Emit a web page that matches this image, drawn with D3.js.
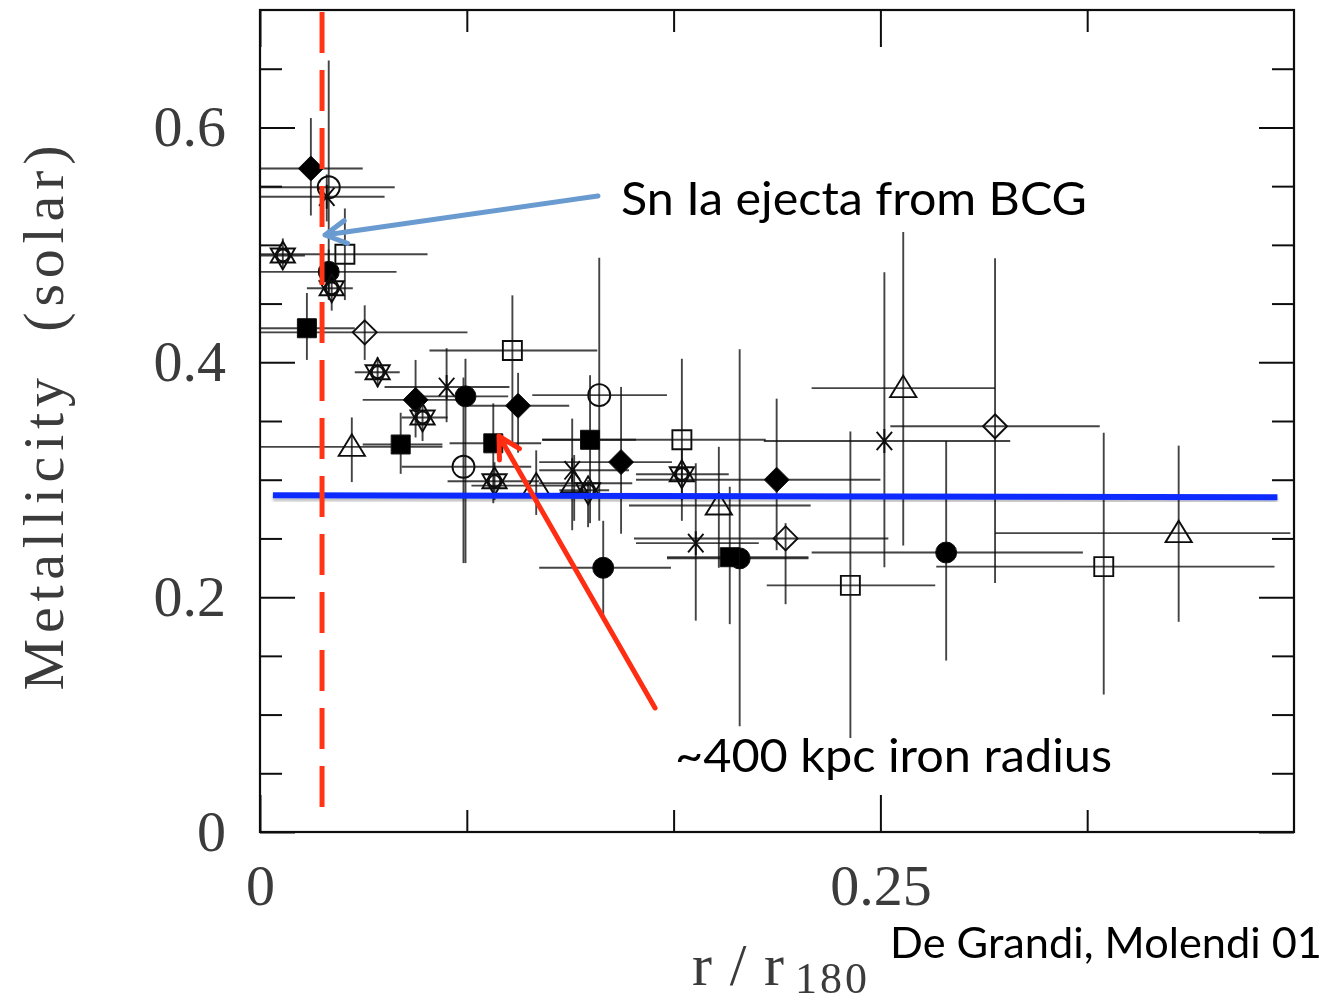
<!DOCTYPE html>
<html>
<head>
<meta charset="utf-8">
<script src="https://cdn.jsdelivr.net/npm/d3@7"></script>
<style>
  body { margin: 0; background: #fff; }
  svg { display: block; }
</style>
</head>
<body>
<svg id="chart" width="1327" height="1005"></svg>
<script>
// Each row: [r/r180, rLo, rHi, Z, zLo, zHi]
const filledDiamonds = [
  [0.0205, 0.0,    0.0414, 0.565, 0.525, 0.608],
  [0.0627, 0.0414, 0.0836, 0.368, 0.336, 0.402],
  [0.104,  0.0844, 0.1246, 0.363, 0.323, 0.391],
  [0.1455, 0.1125, 0.166,  0.315, 0.254, 0.379],
  [0.2082, 0.1515, 0.25,   0.300, 0.240, 0.369]
];
const filledCircles = [
  [0.0277, 0.0,    0.055,  0.477, 0.460, 0.496],
  [0.0828, 0.064,  0.1,    0.371, 0.229, 0.403],
  [0.1383, 0.1125, 0.1656, 0.225, 0.180, 0.265],
  [0.1933, 0.164,  0.221,  0.233, 0.090, 0.411],
  [0.2765, 0.2223, 0.3316, 0.238, 0.146, 0.333]
];
const filledSquares = [
  [0.0189, 0.0,    0.0382, 0.429, 0.402, 0.459],
  [0.0567, 0.0414, 0.0735, 0.330, 0.305, 0.357],
  [0.094,  0.0764, 0.1133, 0.331, 0.280, 0.365],
  [0.133,  0.1137, 0.1515, 0.334, 0.263, 0.389],
  [0.1893, 0.164,  0.221,  0.234, 0.177, 0.294]
];
const openCircles = [
  [0.0277, 0.0,    0.0543, 0.549, 0.453, 0.657],
  [0.082,  0.0571, 0.1093, 0.311, 0.229, 0.387],
  [0.1367, 0.1097, 0.164,  0.372, 0.265, 0.489]
];
const openSquares = [
  [0.0342, 0.0,    0.0675, 0.492, 0.453, 0.531],
  [0.1017, 0.0683, 0.1359, 0.410, 0.331, 0.457],
  [0.17,   0.1137, 0.2038, 0.334, 0.265, 0.403],
  [0.2379, 0.2042, 0.2721, 0.210, 0.080, 0.341],
  [0.34,   0.2725, 0.4088, 0.226, 0.117, 0.340]
];
const openDiamonds = [
  [0.0422, 0.0,    0.0836, 0.4255, 0.402, 0.4485],
  [0.2118, 0.1507, 0.2532, 0.250,  0.194, 0.263],
  [0.2962, 0.254,  0.3384, 0.3455, 0.212, 0.4885]
];
const openTriangles = [
  [0.037,  0.0,    0.0735, 0.328, 0.298, 0.353],
  [0.1113, 0.0852, 0.1326, 0.295, 0.270, 0.325],
  [0.1266, 0.1125, 0.15,   0.297, 0.265, 0.321],
  [0.1849, 0.1487, 0.2219, 0.278, 0.225, 0.328],
  [0.2592, 0.2223, 0.2962, 0.378, 0.244, 0.511],
  [0.3702, 0.2962, 0.4152, 0.2545, 0.179, 0.329]
];
const asterisks = [
  [0.0269, 0.0,    0.0502, 0.541, 0.520, 0.560],
  [0.0752, 0.0502, 0.1005, 0.379, 0.349, 0.412],
  [0.1258, 0.1125, 0.1487, 0.308, 0.257, 0.352],
  [0.1756, 0.1515, 0.201,  0.246, 0.180, 0.314],
  [0.2516, 0.203,  0.3023, 0.333, 0.2255, 0.4766]
];
const hexagrams = [
  [0.0092, 0.0,    0.0181, 0.491, 0.480, 0.5055],
  [0.0289, 0.0189, 0.0374, 0.463, 0.444, 0.4757],
  [0.0474, 0.0382, 0.0563, 0.3915, 0.3787, 0.4043],
  [0.0655, 0.0571, 0.0756, 0.353, 0.333, 0.366],
  [0.0945, 0.0756, 0.1125, 0.2987, 0.2826, 0.3149],
  [0.1322, 0.1206, 0.1407, 0.291, 0.2596, 0.2996],
  [0.17,   0.1515, 0.1889, 0.3047, 0.2826, 0.3251]
];

// Axis ticks
const xMinorTicks = [1 / 12, 2 / 12, 4 / 12];
const xMajorTicks = [0, 0.25];
const yMinorTicks = [0.05, 0.1, 0.15, 0.25, 0.3, 0.35, 0.45, 0.5, 0.55, 0.65];
const yMajorTicks = [0, 0.2, 0.4, 0.6];

// Overlays
const mixingLevel = [[0.0052, 0.2868], [0.41, 0.2851]];
const bcgRadius = 0.025;
const bcgArrow = { tail: [0.1362, 0.5416], tip: [0.0262, 0.5084] };
const ironArrow = { tail: [0.1592, 0.1056], tip: [0.0963, 0.3372] };

const svg = d3.select("#chart");
const plotL = 260, plotR = 1294, plotT = 10, plotB = 832;

const x = d3.scaleLinear().domain([0, 5 / 12]).range([plotL, plotR]);
const y = d3.scaleLinear().domain([0, 0.7]).range([plotB, plotT]);

const defs = svg.append("defs");
defs.append("filter").attr("id", "soft")
  .append("feGaussianBlur").attr("stdDeviation", 0.6);
const sh = defs.append("filter").attr("id", "shadow")
  .attr("x", "-5%").attr("y", "-200%").attr("width", "110%").attr("height", "500%");
sh.append("feDropShadow").attr("dx", 0).attr("dy", 3).attr("stdDeviation", 1.5)
  .attr("flood-color", "#000").attr("flood-opacity", 0.25);

const plot = svg.append("g").attr("filter", "url(#soft)");

// Custom marker shapes (size = nominal radius squared)
const hexSymbol = {
  draw(ctx, size) {
    const r = Math.sqrt(size);
    for (const s of [1, -1]) {
      for (let i = 0; i < 3; i++) {
        const a = -Math.PI / 2 * s + i * 2 * Math.PI / 3;
        const px = r * Math.cos(a), py = r * Math.sin(a);
        if (i === 0) ctx.moveTo(px, py); else ctx.lineTo(px, py);
      }
      ctx.closePath();
    }
    const c = r * 0.42;
    ctx.moveTo(c, 0);
    ctx.arc(0, 0, c, 0, 2 * Math.PI);
  }
};
const asteriskSymbol = {
  draw(ctx, size) {
    const r = Math.sqrt(size);
    const a = 50 * Math.PI / 180;
    ctx.moveTo(0, -r); ctx.lineTo(0, r);
    ctx.moveTo(-r * Math.cos(a), -r * Math.sin(a)); ctx.lineTo(r * Math.cos(a), r * Math.sin(a));
    ctx.moveTo(-r * Math.cos(a), r * Math.sin(a)); ctx.lineTo(r * Math.cos(a), -r * Math.sin(a));
  }
};
const diamondSymbol = {
  draw(ctx, size) {
    const r = Math.sqrt(size);
    ctx.moveTo(0, -r); ctx.lineTo(r, 0); ctx.lineTo(0, r); ctx.lineTo(-r, 0); ctx.closePath();
  }
};
const squareSymbol = {
  draw(ctx, size) {
    const r = Math.sqrt(size);
    ctx.rect(-r, -r, 2 * r, 2 * r);
  }
};
const circleSymbol = {
  draw(ctx, size) {
    const r = Math.sqrt(size);
    ctx.moveTo(r, 0);
    ctx.arc(0, 0, r, 0, 2 * Math.PI);
  }
};
const triangleSymbol = {
  draw(ctx, size) {
    const r = Math.sqrt(size);
    ctx.moveTo(0, -r); ctx.lineTo(r * 1.05, r * 0.72); ctx.lineTo(-r * 1.05, r * 0.72); ctx.closePath();
  }
};

const series = [
  { data: filledDiamonds, type: diamondSymbol, r: 12.5, fill: "#000" },
  { data: filledCircles, type: circleSymbol, r: 10.5, fill: "#000" },
  { data: filledSquares, type: squareSymbol, r: 9.5, fill: "#000" },
  { data: openCircles, type: circleSymbol, r: 11, fill: "none" },
  { data: openSquares, type: squareSymbol, r: 9.5, fill: "none" },
  { data: openDiamonds, type: diamondSymbol, r: 12, fill: "none" },
  { data: openTriangles, type: triangleSymbol, r: 12.5, fill: "none" },
  { data: asterisks, type: asteriskSymbol, r: 12, fill: "none" },
  { data: hexagrams, type: hexSymbol, r: 14, fill: "none" }
];

// Error bars
const bars = plot.append("g")
  .attr("stroke", "#111").attr("stroke-opacity", 0.78).attr("stroke-width", 1.9);
series.forEach(s => {
  bars.selectAll(null).data(s.data).enter().append("line")
    .attr("x1", d => x(d[1])).attr("x2", d => x(d[2]))
    .attr("y1", d => y(d[3])).attr("y2", d => y(d[3]));
  bars.selectAll(null).data(s.data).enter().append("line")
    .attr("x1", d => x(d[0])).attr("x2", d => x(d[0]))
    .attr("y1", d => y(d[4])).attr("y2", d => y(d[5]));
});

// Markers
const marks = plot.append("g");
series.forEach(s => {
  const sym = d3.symbol().type(s.type).size(s.r * s.r);
  marks.selectAll(null).data(s.data).enter().append("path")
    .attr("transform", d => `translate(${x(d[0])},${y(d[3])})`)
    .attr("d", sym)
    .attr("fill", s.fill)
    .attr("stroke", "#111")
    .attr("stroke-width", s.fill === "none" ? 1.9 : 1);
});

// Frame and ticks
const tickFont = g => g.selectAll("text")
  .attr("font-family", "'Liberation Serif', serif")
  .attr("font-size", 58).attr("fill", "#3a3a3a");
const clean = g => g.call(a => a.select(".domain").remove())
  .call(a => a.selectAll("line").attr("stroke", "#111").attr("stroke-width", 2));

plot.append("g").attr("transform", `translate(0,${plotB})`)
  .call(d3.axisBottom(x).tickValues(xMinorTicks).tickSize(-22).tickFormat("")).call(clean);
plot.append("g").attr("transform", `translate(0,${plotB})`)
  .call(d3.axisBottom(x).tickValues(xMajorTicks).tickSize(-37).tickPadding(32)
    .tickFormat(d => d === 0 ? "0" : d3.format(".2f")(d)))
  .call(clean).call(tickFont);
plot.append("g").attr("transform", `translate(0,${plotT})`)
  .call(d3.axisTop(x).tickValues(xMinorTicks).tickSize(-22).tickFormat("")).call(clean);
plot.append("g").attr("transform", `translate(0,${plotT})`)
  .call(d3.axisTop(x).tickValues(xMajorTicks).tickSize(-37).tickFormat("")).call(clean);

plot.append("g").attr("transform", `translate(${plotL},0)`)
  .call(d3.axisLeft(y).tickValues(yMinorTicks).tickSize(-22).tickFormat("")).call(clean);
plot.append("g").attr("transform", `translate(${plotL},0)`)
  .call(d3.axisLeft(y).tickValues(yMajorTicks).tickSize(-35).tickPadding(34)
    .tickFormat(d => d === 0 ? "0" : d3.format(".1f")(d)))
  .call(clean).call(tickFont);
plot.append("g").attr("transform", `translate(${plotR},0)`)
  .call(d3.axisRight(y).tickValues(yMinorTicks).tickSize(-22).tickFormat("")).call(clean);
plot.append("g").attr("transform", `translate(${plotR},0)`)
  .call(d3.axisRight(y).tickValues(yMajorTicks).tickSize(-35).tickFormat("")).call(clean);

plot.append("rect")
  .attr("x", plotL).attr("y", plotT).attr("width", plotR - plotL).attr("height", plotB - plotT)
  .attr("fill", "none").attr("stroke", "#111").attr("stroke-width", 2.2);

// Axis titles
plot.append("text")
  .attr("transform", "translate(63,418) rotate(-90)")
  .attr("text-anchor", "middle")
  .attr("font-family", "'Liberation Serif', serif").attr("font-size", 58).attr("fill", "#3a3a3a")
  .attr("textLength", 545).attr("lengthAdjust", "spacing")
  .style("white-space", "pre")
  .text("Metallicity  (solar)");
plot.append("text")
  .attr("x", 692).attr("y", 985)
  .attr("font-family", "'Liberation Serif', serif").attr("font-size", 60).attr("fill", "#3a3a3a")
  .attr("textLength", 92).attr("lengthAdjust", "spacing")
  .text("r/r");
plot.append("text")
  .attr("x", 795).attr("y", 993)
  .attr("font-family", "'Liberation Serif', serif").attr("font-size", 44).attr("fill", "#3a3a3a")
  .attr("textLength", 72).attr("lengthAdjust", "spacing")
  .text("180");

// Overlays: mean level, BCG radius, arrows
svg.append("line")
  .attr("x1", x(mixingLevel[0][0])).attr("y1", y(mixingLevel[0][1]))
  .attr("x2", x(mixingLevel[1][0])).attr("y2", y(mixingLevel[1][1]))
  .attr("stroke", "#0a2cff").attr("stroke-width", 6)
  .attr("filter", "url(#shadow)");

svg.append("line")
  .attr("x1", x(bcgRadius)).attr("x2", x(bcgRadius))
  .attr("y1", y(0.7) + 2).attr("y2", y(0.015))
  .attr("stroke", "#ff3516").attr("stroke-width", 5)
  .attr("stroke-dasharray", "41,17");

function arrow(spec, color) {
  const x0 = x(spec.tail[0]), y0 = y(spec.tail[1]);
  const x1 = x(spec.tip[0]), y1 = y(spec.tip[1]);
  const ang = Math.atan2(y0 - y1, x0 - x1);
  const L = 24, spread = 0.5;
  const p = d3.path();
  p.moveTo(x0, y0); p.lineTo(x1, y1);
  p.moveTo(x1 + L * Math.cos(ang + spread), y1 + L * Math.sin(ang + spread));
  p.lineTo(x1, y1);
  p.lineTo(x1 + L * Math.cos(ang - spread), y1 + L * Math.sin(ang - spread));
  svg.append("path").attr("d", p.toString())
    .attr("fill", "none").attr("stroke", color).attr("stroke-width", 5)
    .attr("stroke-linecap", "round").attr("stroke-linejoin", "round");
}
arrow(bcgArrow, "#6a9bd0");
arrow(ironArrow, "#ff2d12");

// Annotation text
const note = (tx, ty, len, size, str) => svg.append("text")
  .attr("x", tx).attr("y", ty)
  .attr("font-family", "Lato, 'Open Sans', sans-serif").attr("font-size", size).attr("fill", "#000")
  .attr("textLength", len).attr("lengthAdjust", "spacingAndGlyphs")
  .text(str);
note(621, 215, 466, 47, "Sn Ia ejecta from BCG");
note(675, 772, 437, 47, "~400 kpc iron radius");
note(890, 958, 432, 42, "De Grandi, Molendi 01");
</script>
</body>
</html>
